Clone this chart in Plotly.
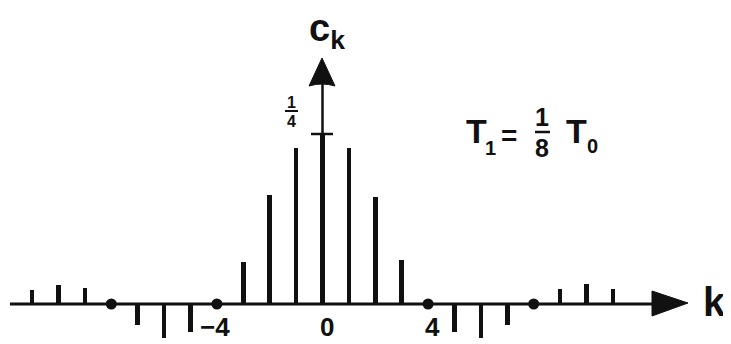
import plotly.graph_objects as go

# valores
k_vals = [-11, -10, -9, -7, -6, -5, -3, -2, -1, 0, 1, 2, 3, 5, 6, 7, 9, 10, 11]
c_vals = [0.021, 0.028, 0.023, -0.031, -0.050, -0.041, 0.062, 0.160, 0.229, 0.25,
          0.229, 0.158, 0.065, -0.041, -0.050, -0.031, 0.022, 0.029, 0.022]
k_zeros = [-8, -4, 4, 8]
c_zeros = [0, 0, 0, 0]
tick_k = [-4, 0, 4]
tick_lbl = ["−4", "0", "4"]

W, H = 731, 344
OFF = 8                  # margen por defecto del <body>
X0, DX = 322.5, 26.4     # pixel de k=0 y pixeles por unidad
Y0, DY = 304.0, 680.0    # pixel de c=0 y pixeles por unidad


def px(x):
    return (x - X0) / DX


def py(y):
    return (Y0 - y) / DY


BLACK = "#111111"
FONT = "Liberation Sans"

fig = go.Figure()

# ── Líneas espectrales ─────────────────────────────
fig.add_trace(go.Bar(x=k_vals, y=c_vals, width=0.18, marker_color=BLACK,
                     marker_line_width=0, hoverinfo="skip"))

# ── Puntos en los ceros ────────────────────────────
fig.add_trace(go.Scatter(x=k_zeros, y=c_zeros, mode="markers",
                         marker=dict(size=11, color=BLACK), hoverinfo="skip"))

shapes = [
    # eje k
    dict(type="line", x0=px(10), x1=px(655), y0=0, y1=0,
         line=dict(color=BLACK, width=3)),
    dict(type="path", fillcolor=BLACK, line=dict(color=BLACK, width=1),
         path=f"M {px(652)},{py(291)} L {px(688)},{py(303)} L {px(652)},{py(316)} Z"),
    # eje c_k
    dict(type="line", x0=0, x1=0, y0=0, y1=py(84),
         line=dict(color=BLACK, width=2.5)),
    dict(type="path", fillcolor=BLACK, line=dict(color=BLACK, width=1),
         path=f"M {px(309)},{py(86)} Q {px(322)},{py(82)} {px(335)},{py(86)} "
              f"L {px(322)},{py(58)} Z"),
    # marca 1/4
    dict(type="line", x0=px(311), x1=px(333), y0=0.25, y1=0.25,
         line=dict(color=BLACK, width=2.5)),
    # barra de fracción 1/4
    dict(type="line", x0=px(285), x1=px(298), y0=py(111), y1=py(111),
         line=dict(color=BLACK, width=2)),
    # barra de fracción 1/8
    dict(type="line", x0=px(535), x1=px(550), y0=py(132), y1=py(132),
         line=dict(color=BLACK, width=2.5)),
]

annotations = [
    dict(x=px(327), y=py(31), text="<b>c<sub>k</sub></b>", font=dict(size=38)),
    dict(x=px(714), y=py(302), text="<b>k</b>", font=dict(size=40)),
    dict(x=px(291), y=py(102), text="<b>1</b>", font=dict(size=16)),
    dict(x=px(291), y=py(121), text="<b>4</b>", font=dict(size=16)),
    dict(x=px(476), y=py(131), text="<b>T</b>", font=dict(size=34)),
    dict(x=px(490), y=py(148), text="<b>1</b>", font=dict(size=20)),
    dict(x=px(509), y=py(135), text="<b>=</b>", font=dict(size=28)),
    dict(x=px(542), y=py(117), text="<b>1</b>", font=dict(size=25)),
    dict(x=px(542), y=py(148), text="<b>8</b>", font=dict(size=25)),
    dict(x=px(576), y=py(131), text="<b>T</b>", font=dict(size=34)),
    dict(x=px(592), y=py(146), text="<b>0</b>", font=dict(size=20)),
]
for k, t in zip(tick_k, tick_lbl):
    annotations.append(dict(x=px(X0 + k * DX + (-2 if k < 0 else 4)), y=py(327),
                            text=f"<b>{t}</b>", font=dict(size=26)))
for a in annotations:
    a.update(showarrow=False, xref="x", yref="y")
    a["font"].update(color=BLACK, family=FONT)

fig.update_layout(
    width=W - OFF, height=H - OFF,
    margin=dict(l=0, r=0, t=0, b=0),
    plot_bgcolor="white", paper_bgcolor="white",
    showlegend=False,
    xaxis=dict(range=[px(OFF), px(W)], visible=False, fixedrange=True),
    yaxis=dict(range=[py(H), py(OFF)], visible=False, fixedrange=True),
    shapes=shapes,
    annotations=annotations,
    bargap=0,
)

fig.write_html("out.html", config={"displayModeBar": False})
